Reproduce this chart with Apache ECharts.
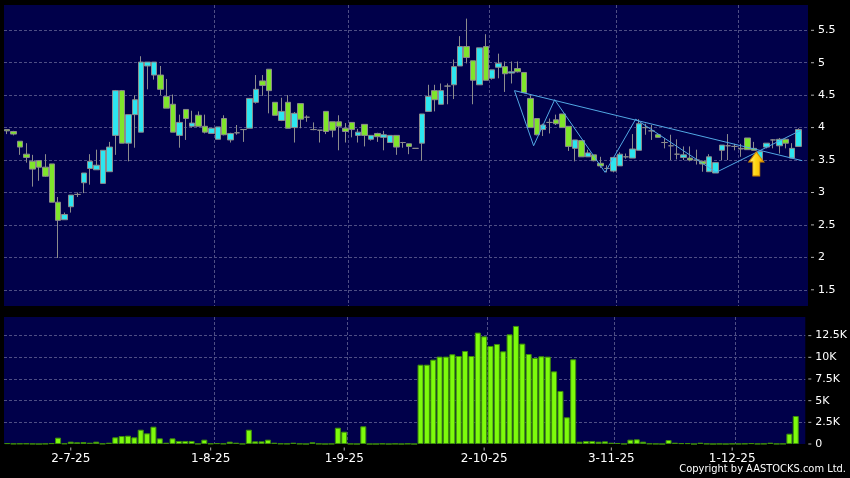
<!DOCTYPE html>
<html><head><meta charset="utf-8">
<script src="https://cdn.jsdelivr.net/npm/echarts@6/dist/echarts.min.js"></script>
<style>html,body{margin:0;padding:0;background:#000;}#c{width:850px;height:478px;}</style>
</head><body><div id="c"></div>
<script>
// Trading-day categories (D-M-YY); last '' is an empty padding slot on the right
const dates = [
'17-6-25','18-6-25','19-6-25','20-6-25','23-6-25','24-6-25','25-6-25','26-6-25','27-6-25','30-6-25',
'2-7-25','3-7-25','4-7-25','7-7-25','8-7-25','9-7-25','10-7-25','11-7-25','14-7-25','15-7-25','16-7-25','17-7-25','18-7-25','21-7-25','22-7-25','23-7-25','24-7-25','25-7-25','28-7-25','29-7-25','30-7-25','31-7-25',
'1-8-25','4-8-25','5-8-25','6-8-25','7-8-25','8-8-25','11-8-25','12-8-25','13-8-25','14-8-25','15-8-25','18-8-25','19-8-25','20-8-25','21-8-25','22-8-25','25-8-25','26-8-25','27-8-25','28-8-25','29-8-25',
'1-9-25','2-9-25','3-9-25','4-9-25','5-9-25','8-9-25','9-9-25','10-9-25','11-9-25','12-9-25','15-9-25','16-9-25','17-9-25','18-9-25','19-9-25','22-9-25','23-9-25','24-9-25','25-9-25','26-9-25','29-9-25','30-9-25',
'2-10-25','3-10-25','6-10-25','8-10-25','9-10-25','10-10-25','13-10-25','14-10-25','15-10-25','16-10-25','17-10-25','20-10-25','21-10-25','22-10-25','23-10-25','24-10-25','27-10-25','28-10-25','30-10-25','31-10-25',
'3-11-25','4-11-25','5-11-25','6-11-25','7-11-25','10-11-25','11-11-25','12-11-25','13-11-25','14-11-25','17-11-25','18-11-25','19-11-25','20-11-25','21-11-25','24-11-25','25-11-25','26-11-25','27-11-25',
'1-12-25','2-12-25','3-12-25','4-12-25','5-12-25','8-12-25','9-12-25','10-12-25','11-12-25','12-12-25','15-12-25',
''];
const labelDates = ['2-7-25','1-8-25','1-9-25','2-10-25','3-11-25','1-12-25'];

const openP = [3.97,3.94,3.79,3.59,3.48,3.49,3.39,3.44,2.85,2.58,2.78,2.97,3.15,3.37,3.35,3.14,3.32,3.88,4.57,3.76,4.20,3.93,4.95,4.81,4.81,4.48,4.36,3.88,4.28,4.02,4.19,4.02,3.91,3.82,4.14,3.81,3.92,3.97,3.99,4.39,4.72,4.90,4.39,4.11,4.39,4.00,4.37,4.16,3.97,3.96,4.25,4.09,4.09,3.99,4.08,3.88,4.05,3.82,3.91,3.85,3.77,3.88,3.77,3.75,3.68,3.76,4.25,4.57,4.36,4.64,4.66,4.95,5.25,5.03,4.66,5.25,4.76,4.93,4.94,4.84,4.91,4.85,4.45,4.14,3.97,4.08,4.12,4.21,4.02,3.68,3.80,3.55,3.58,3.45,3.37,3.33,3.41,3.55,3.53,3.65,4.00,3.95,3.89,3.77,3.72,3.59,3.54,3.53,3.50,3.48,3.32,3.30,3.65,3.72,3.71,3.68,3.84,3.68,3.50,3.70,3.81,3.72,3.82,3.53,3.71];
const closeP = [3.95,3.90,3.70,3.54,3.36,3.39,3.25,2.85,2.57,2.66,2.96,2.97,3.30,3.48,3.42,3.65,3.70,4.57,3.76,4.20,4.43,5.01,5.01,5.01,4.59,4.30,3.93,4.08,4.14,4.07,4.02,3.93,3.99,4.01,3.89,3.91,3.92,3.97,4.45,4.59,4.65,4.57,4.19,4.25,3.99,4.22,4.13,4.16,3.97,3.96,3.94,3.96,4.02,3.94,3.97,3.93,3.88,3.88,3.86,3.89,3.88,3.70,3.77,3.71,3.68,4.21,4.48,4.43,4.57,4.64,4.94,5.25,5.08,4.73,5.23,4.73,4.89,4.99,4.83,4.86,4.86,4.54,4.00,3.89,4.04,4.08,4.06,4.00,3.71,3.81,3.55,3.61,3.49,3.41,3.37,3.54,3.59,3.55,3.67,4.06,4.00,3.95,3.85,3.77,3.72,3.59,3.58,3.50,3.50,3.44,3.55,3.46,3.73,3.72,3.71,3.67,3.66,3.65,3.63,3.76,3.81,3.82,3.76,3.68,3.97];
const lowP = [3.90,3.88,3.58,3.46,3.09,3.18,3.24,2.85,1.99,2.58,2.69,2.93,2.99,3.12,3.35,3.14,3.32,3.58,3.76,3.48,3.69,3.93,4.59,4.74,4.50,4.30,3.93,3.69,3.81,4.00,4.02,3.91,3.91,3.82,3.88,3.77,3.89,3.78,3.99,4.37,4.49,4.22,4.19,4.10,3.99,3.77,3.99,4.09,3.96,3.77,3.90,3.85,3.65,3.77,3.85,3.77,3.71,3.80,3.78,3.65,3.77,3.58,3.69,3.59,3.68,3.49,4.25,4.25,4.36,4.36,4.44,4.95,4.99,4.36,4.66,4.73,4.74,4.76,4.55,4.68,4.85,4.54,4.00,3.88,3.87,3.91,4.04,4.00,3.64,3.48,3.55,3.55,3.48,3.38,3.31,3.31,3.41,3.52,3.53,3.65,3.89,3.81,3.85,3.68,3.50,3.51,3.50,3.48,3.43,3.32,3.32,3.30,3.50,3.50,3.65,3.55,3.66,3.65,3.50,3.68,3.68,3.60,3.68,3.53,3.71];
const highP = [3.97,3.95,3.79,3.76,3.58,3.50,3.59,3.44,2.93,2.69,2.96,3.00,3.30,3.59,3.66,3.65,3.78,4.58,4.58,4.20,4.50,5.10,5.01,5.01,4.95,4.75,4.51,4.20,4.28,4.26,4.25,4.20,3.99,4.01,4.19,3.92,4.04,3.97,4.45,4.81,4.81,4.90,4.39,4.46,4.50,4.24,4.37,4.19,4.08,3.96,4.25,4.09,4.19,4.07,4.08,3.98,4.05,3.88,3.92,3.95,3.88,3.88,3.78,3.75,3.68,4.21,4.66,4.66,4.68,4.68,5.05,5.41,5.68,5.03,5.23,5.44,4.89,5.14,5.02,5.02,5.02,4.85,4.50,4.14,4.06,4.14,4.20,4.21,4.02,3.81,3.80,3.66,3.58,3.55,3.42,3.54,3.62,3.60,3.90,4.13,4.06,4.04,3.90,3.84,3.89,3.82,3.71,3.71,3.66,3.49,3.59,3.46,3.73,3.90,3.75,3.75,3.84,3.78,3.63,3.76,3.82,3.84,3.83,3.76,3.99];
const volume = [100,30,50,60,20,0,30,100,730,60,270,200,230,150,270,40,150,770,920,960,770,1650,1230,2000,650,150,650,350,350,350,30,500,50,100,40,270,150,20,1650,310,310,500,150,50,30,150,30,0,200,30,0,20,1880,1420,20,0,2040,0,0,40,0,30,0,40,0,9150,9150,9730,10080,10080,10350,10150,10730,10150,12850,12420,11310,11540,10690,12650,13620,11580,10380,9920,10120,10080,8380,6120,3080,9770,270,350,350,270,310,150,120,20,500,540,270,50,20,0,460,150,100,100,0,150,30,0,20,0,30,20,40,100,20,30,150,20,30,1190,3230];

// Drawn pattern annotations (category index, price)
const zigzagIdx = [79.5, 82.5, 85.8, 93.7, 98.5, 111.1, 124.4];
const zigzagPrice = [4.57, 3.72, 4.43, 3.31, 4.13, 3.31, 3.96];
const trendIdx = [79.5, 124.6];
const trendPrice = [4.57, 3.49];
const arrowIdx = [117.4];
const arrowPrice = [3.44];

const UP = '#2de6f0', DOWN = '#7fe52b', EDGE = '#8c8c8c';
const GRIDC = '#4e4e84', BG = '#00004a', TICKC = '#b0b0b0';
const candles = openP.map((o, i) => [o, closeP[i], lowP[i], highP[i]]);
const isLabel = (idx, val) => labelDates.includes(val);
const isSplit = (idx) => idx > 0 && labelDates.includes(dates[idx - 1]);
const pair = (xs, ys) => xs.map((x, i) => [x, ys[i]]);
const yRich = {
  t: {width: 3, height: 1, lineHeight: 12, backgroundColor: TICKC, verticalAlign: 'middle'},
  v: {color: '#fff', fontFamily: 'DejaVu Sans', fontSize: 11, lineHeight: 12, padding: [0, 0, 0, 4], verticalAlign: 'middle'}
};
const xRich = {
  t: {width: 1, height: 3, lineHeight: 4, backgroundColor: TICKC, align: 'center'},
  v: {color: '#fff', fontFamily: 'DejaVu Sans', fontSize: 12, lineHeight: 16, align: 'center'}
};
const volText = v => v === 0 ? '0' : (v / 1000) + 'K';

const chart = echarts.init(document.getElementById('c'), null, {renderer: 'canvas'});
chart.setOption({
  backgroundColor: '#000',
  animation: false,
  grid: [
    {left: 4, top: 5, width: 804, height: 301, show: true, backgroundColor: BG, borderWidth: 0},
    {left: 4, top: 317, width: 804, height: 127, show: true, backgroundColor: BG, borderWidth: 0}
  ],
  xAxis: [
    {type: 'category', gridIndex: 0, data: dates, boundaryGap: true,
     axisLine: {show: false}, axisTick: {show: false}, axisLabel: {show: false},
     splitLine: {show: true, interval: isSplit, showMinLine: false, showMaxLine: false,
       lineStyle: {color: GRIDC, type: [3, 2], width: 1}}},
    {type: 'category', gridIndex: 1, data: dates, boundaryGap: true,
     axisLine: {show: false}, axisTick: {show: false},
     axisLabel: {show: true, interval: isLabel, margin: 3, rich: xRich,
       formatter: v => '{t|}\n{v|' + v + '}'},
     splitLine: {show: true, interval: isSplit, showMinLine: false, showMaxLine: false,
       lineStyle: {color: GRIDC, type: [3, 2], width: 1}}},
    {type: 'value', gridIndex: 0, min: -0.5, max: dates.length - 0.5, show: false}
  ],
  yAxis: [
    {type: 'value', gridIndex: 0, position: 'right', min: 1.25, max: 5.89, splitNumber: 9,
     minInterval: 0.5, maxInterval: 0.5, scale: true,
     axisLine: {show: false}, axisTick: {show: false},
     axisLabel: {margin: 3, showMinLabel: false, showMaxLabel: false, rich: yRich,
       formatter: v => '{t|}{v|' + v + '}'},
     splitLine: {show: true, showMinLine: false, showMaxLine: false, lineStyle: {color: GRIDC, type: [3, 2], width: 1}}},
    {type: 'value', gridIndex: 1, position: 'right', min: 0, max: 14650, interval: 2500,
     axisLine: {show: false}, axisTick: {show: false},
     axisLabel: {margin: 3, showMaxLabel: false, rich: yRich,
       formatter: v => '{t|}{v|' + volText(v) + '}'},
     splitLine: {show: true, showMinLine: false, showMaxLine: false, lineStyle: {color: GRIDC, type: [3, 2], width: 1}}}
  ],
  series: [
    {type: 'candlestick', xAxisIndex: 0, yAxisIndex: 0, data: candles, barWidth: 6,
     itemStyle: {color: UP, color0: DOWN, borderColor: EDGE, borderColor0: EDGE, borderColorDoji: EDGE, borderWidth: 1}},
    {type: 'bar', xAxisIndex: 1, yAxisIndex: 1, data: volume, barWidth: 6,
     itemStyle: {color: '#7dfb0c', borderColor: '#3f8f0a', borderWidth: 1}},
    {type: 'line', xAxisIndex: 2, yAxisIndex: 0, data: pair(zigzagIdx, zigzagPrice), symbol: 'none',
     lineStyle: {color: '#52a8e4', width: 1}, z: 5},
    {type: 'line', xAxisIndex: 2, yAxisIndex: 0, data: pair(trendIdx, trendPrice), symbol: 'none',
     lineStyle: {color: '#52a8e4', width: 1}, z: 5},
    {type: 'scatter', xAxisIndex: 2, yAxisIndex: 0, data: pair(arrowIdx, arrowPrice),
     symbol: 'path://M7.5,0 L15,10 L11,10 L11,24 L4,24 L4,10 L0,10 Z', symbolSize: [15, 24], symbolKeepAspect: false,
     itemStyle: {opacity: 1, color: new echarts.graphic.LinearGradient(0, 0, 1, 0, [{offset: 0, color: '#fff3a0'}, {offset: 0.45, color: '#ffd814'}, {offset: 1, color: '#f5a800'}]),
       borderColor: '#d08a00', borderWidth: 1}, z: 6}
  ],
  graphic: [
    {type: 'text', right: 4, top: 464, style: {text: 'Copyright by AASTOCKS.com Ltd.', fill: '#fff', font: '11px "DejaVu Sans Condensed", "Liberation Sans"'}}
  ]
});
</script></body></html>
